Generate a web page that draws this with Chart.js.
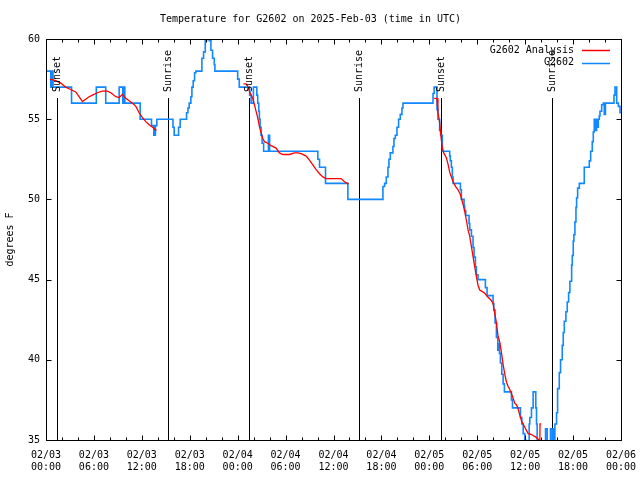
<!DOCTYPE html>
<html>
<head>
<meta charset="utf-8">
<title>Temperature for G2602</title>
<script src="https://cdn.jsdelivr.net/npm/chart.js@4.4.1/dist/chart.umd.min.js"></script>
<style>
  html, body { margin: 0; padding: 0; background: #fff; }
</style>
</head>
<body>
<canvas id="grafica" width="640" height="480"></canvas>
<script>
// horas desde 02/03 00:00 UTC
const obsHours = [0, 0.6, 0.75, 0.88, 3.2, 6.3, 7.48, 9.16, 9.62, 9.7, 9.87, 11.79, 13.21, 13.5, 13.7, 13.88,
  15.9, 16.05, 16.6, 16.8, 17.6, 17.77, 17.93, 18.14, 18.27, 18.43, 18.6, 18.77, 19.52, 19.73, 19.94, 20.11,
  20.44, 20.65, 20.86, 21.07, 21.15, 24.0, 24.2, 25.5, 25.68, 25.97, 26.4, 26.51, 26.64, 26.72, 26.81, 26.93,
  27.06, 27.25, 27.85, 28.0, 34.04, 34.25, 35.0, 37.8, 42.19, 42.4, 42.61, 42.82, 42.94, 43.11, 43.44, 43.57,
  43.74, 43.95, 44.15, 44.36, 44.57, 44.7, 48.46, 48.6, 48.96, 49.08, 49.29, 49.42, 49.63, 50.55, 50.63, 50.76,
  50.88, 50.97, 51.89, 52.01, 52.35, 52.43, 52.56, 52.97, 53.06, 53.27, 53.47, 53.6, 53.77, 53.89, 54.1, 55.02,
  55.23, 55.98, 56.07, 56.23, 56.4, 56.57, 56.69, 56.78, 56.9, 57.07, 57.24, 57.4, 58.28, 58.41, 59.41, 59.58,
  59.75, 59.95, 60.08, 60.5, 60.58, 60.79, 61.0, 61.33, 61.42, 61.5, 62.55, 62.76, 62.88, 63.17, 63.38, 63.5,
  63.6, 63.72, 63.93, 64.06, 64.27, 64.43, 64.64, 64.77, 64.9, 65.1, 65.27, 65.44, 65.6, 65.82, 65.9, 66.02,
  66.1, 66.23, 66.36, 66.44, 66.57, 66.78, 67.4, 68.03, 68.2, 68.4, 68.53, 68.65, 68.8, 68.95, 69.05, 69.16,
  69.28, 69.37, 69.58, 69.78, 69.9, 70.05, 71.12, 71.25, 71.46, 71.67, 71.88, 72];
const obsTemps = [58, 57, 58, 57, 56, 57, 56, 57, 56, 57, 56, 55, 54.6, 54, 54.6, 55,
  54.5, 54, 54.5, 55, 55.4, 55.7, 56, 56.4, 57, 57.4, 57.9, 58, 58.8, 59.2, 59.9, 60.3,
  59.9, 59.3, 58.8, 58.4, 58, 57.5, 57, 56.5, 56, 57, 56.5, 56, 55.5, 55, 54.5, 54,
  53.5, 53, 54, 53, 52.5, 52, 51, 50, 50.8, 51, 51.4, 52, 52.5, 52.9, 53.3, 53.8,
  54, 54.5, 55, 55.3, 55.7, 56, 56.6, 57, 55.6, 55, 54.3, 54, 53, 52.7, 52.4, 52,
  51.4, 51, 50.6, 50, 49.6, 49.3, 49, 48.5, 48.1, 47.7, 47, 46.4, 45.8, 45.3, 45, 44.5,
  44, 43.5, 43.1, 42.3, 41.4, 40.6, 41, 40.4, 39.8, 39.1, 38.5, 38, 37.5, 37, 36.4, 36,
  35.4, 35, 34, 36, 36.4, 37, 38, 37, 36, 34, 35.7, 34.9, 34, 35.7, 35, 35.7,
  34, 36, 36.7, 38.2, 39.2, 40, 40.9, 41.7, 42.4, 43, 43.6, 44.2, 44.9, 45.9, 46.5, 47.4,
  47.8, 48.6, 49.5, 50.1, 50.7, 51, 52, 52.4, 53, 53.6, 54.2, 55, 54.3, 55, 54.5, 55,
  55.2, 55.5, 55.9, 56, 55.3, 56, 56.5, 57, 56, 55.8, 55.4, 55.4];

const anaHours = [0.5, 1.21, 1.84, 2.47, 3.09, 3.72, 4.14, 4.56, 4.97, 5.39, 5.81, 6.44, 7.06, 7.69, 8.11,
  8.74, 9.16, 9.57, 9.99, 10.41, 10.83, 11.25, 11.66, 12.08, 12.5, 12.92, 13.34, 13.84, 14,
  24.72, 25.05, 25.26, 25.47, 25.68, 25.89, 26.1, 26.3, 26.51, 26.72, 26.93, 27.14, 27.35, 27.77, 28.19,
  28.81, 29.23, 29.65, 30.49, 31.11, 31.53, 31.95, 32.58, 32.99, 33.41, 33.83, 34.25, 34.67, 35.08, 36.34,
  36.96, 37.38, 37.9, 40,
  48.6, 48.96, 49.08, 49.29, 49.5, 49.63, 49.8, 50.13, 50.34, 50.55, 50.76, 50.97, 51.3, 51.6, 51.89,
  52.22, 52.43, 52.64, 52.85, 53.06, 53.27, 53.47, 53.68, 53.89, 54.1, 54.31, 54.65, 54.94, 55.36, 55.77,
  55.98, 56.19, 56.4, 56.61, 56.82, 57.03, 57.24, 57.45, 57.66, 57.86, 58.07, 58.28, 58.49, 58.7, 58.91,
  59.12, 59.33, 59.54, 59.75, 59.95, 60.16, 60.37, 60.58, 60.79, 61.0, 61.33, 61.63, 61.84, 61.86, 62.0];
const anaTemps = [57.5, 57.4, 57.25, 57.0, 56.85, 56.7, 56.4, 56.1, 56.25, 56.4, 56.5, 56.65, 56.75, 56.75, 56.65,
  56.4, 56.35, 56.55, 56.3, 56.15, 56.0, 55.8, 55.4, 55.1, 54.85, 54.65, 54.5, 54.3, null,
  57.2, 57.2, 57.05, 56.75, 56.5, 56.3, 55.9, 55.5, 55.1, 54.55, 54.15, 53.8, 53.6, 53.5, 53.35,
  53.2, 52.9, 52.8, 52.8, 52.9, 52.9, 52.85, 52.7, 52.45, 52.15, 51.85, 51.6, 51.4, 51.3, 51.3,
  51.3, 51.1, 50.95, null,
  56.3, 56.3, 55.4, 54.8, 53.7, 53.2, 52.9, 52.6, 52.2, 51.7, 51.4, 51.1, 50.8, 50.6, 50.3,
  49.7, 49.25, 48.7, 48.1, 47.7, 47.05, 46.45, 45.8, 45.2, 44.65, 44.35, 44.25, 44.15, 43.9, 43.7,
  43.5, 42.9, 42.3, 41.45, 41.1, 40.45, 39.7, 39.1, 38.6, 38.35, 38.15, 37.9, 37.6, 37.3, 37.2,
  36.95, 36.55, 36.2, 36.0, 35.8, 35.6, 35.4, 35.38, 35.34, 35.28, 35.18, 35.05, 34.9, 36.0, 36.0];

const sunHours = [1.42, 15.22, 25.38, 39.18, 49.42, 63.3];
const sunLabels = ['Sunset', 'Sunrise', 'Sunset', 'Sunrise', 'Sunset', 'Sunrise'];

const tickDates = ['02/03', '02/03', '02/03', '02/03', '02/04', '02/04', '02/04', '02/04', '02/05', '02/05', '02/05', '02/05', '02/06'];
const tickTimes = ['00:00', '06:00', '12:00', '18:00', '00:00', '06:00', '12:00', '18:00', '00:00', '06:00', '12:00', '18:00', '00:00'];

const fuente = { family: '"DejaVu Sans Mono", monospace', size: 10, weight: 'normal' };
const fuenteCss = '10px "DejaVu Sans Mono", monospace';
const azul = '#1188ff';
const rojo = '#ff0000';

// marco, marcas hacia dentro, lineas de sol y leyenda
const marco = {
  id: 'marco',
  beforeDatasetsDraw(chart) {
    const { ctx, chartArea: a, scales: { x } } = chart;
    ctx.save();
    ctx.strokeStyle = '#000';
    ctx.lineWidth = 1;
    sunHours.forEach(h => {
      const px = Math.round(x.getPixelForValue(h)) + 0.5;
      ctx.beginPath();
      ctx.moveTo(px, a.top + 59);
      ctx.lineTo(px, a.bottom);
      ctx.stroke();
    });
    ctx.restore();
  },
  afterDraw(chart) {
    const { ctx, chartArea: a, scales: { x, y } } = chart;
    ctx.save();
    ctx.strokeStyle = '#000';
    ctx.lineWidth = 1;
    const l = Math.round(a.left) + 0.5, t = Math.round(a.top) + 0.5;
    const r = Math.round(a.right) + 0.5, b = Math.round(a.bottom) + 0.5;
    ctx.strokeRect(l, t, r - l, b - t);

    ctx.beginPath();
    for (let h = 0; h <= 72; h += 2) {
      const px = Math.round(x.getPixelForValue(h)) + 0.5;
      const len = h % 6 === 0 ? 5 : 3;
      ctx.moveTo(px, b); ctx.lineTo(px, b - len);
      ctx.moveTo(px, t); ctx.lineTo(px, t + len);
    }
    for (let v = 35; v <= 60; v += 5) {
      const py = Math.round(y.getPixelForValue(v)) + 0.5;
      ctx.moveTo(l, py); ctx.lineTo(l + 5, py);
      ctx.moveTo(r, py); ctx.lineTo(r - 5, py);
    }
    ctx.stroke();

    // etiquetas de sol
    ctx.fillStyle = '#000';
    ctx.font = fuenteCss;
    ctx.textAlign = 'left';
    ctx.textBaseline = 'middle';
    sunHours.forEach((h, i) => {
      const px = x.getPixelForValue(h);
      ctx.save();
      ctx.translate(px + 0.5, a.top + 53);
      ctx.rotate(-Math.PI / 2);
      ctx.fillText(sunLabels[i], 0, 0);
      ctx.restore();
    });

    // leyenda
    ctx.textAlign = 'right';
    chart.data.datasets.forEach((ds, i) => {
      const ly = a.top + 11 + i * 12.5;
      ctx.fillStyle = '#000';
      ctx.fillText(ds.label, a.right - 47, ly);
      ctx.strokeStyle = ds.borderColor;
      ctx.lineWidth = 1.5;
      ctx.beginPath();
      ctx.moveTo(a.right - 39, Math.round(ly) + 0.5);
      ctx.lineTo(a.right - 11, Math.round(ly) + 0.5);
      ctx.stroke();
    });
    ctx.restore();
  }
};

const ctx = document.getElementById('grafica').getContext('2d');
new Chart(ctx, {
  type: 'line',
  data: {
    datasets: [{
      label: 'G2602 Analysis',
      data: anaHours.map((h, i) => ({ x: h, y: anaTemps[i] })),
      borderColor: rojo,
      borderWidth: 1.3,
      pointRadius: 0,
      tension: 0
    }, {
      label: 'G2602',
      data: obsHours.map((h, i) => ({ x: h, y: obsTemps[i] })),
      borderColor: azul,
      borderWidth: 1.6,
      pointRadius: 0,
      stepped: true
    }]
  },
  options: {
    responsive: false,
    animation: false,
    layout: { padding: { left: 0, right: 19, top: 0, bottom: 0 } },
    plugins: {
      legend: { display: false },
      tooltip: { enabled: false },
      title: {
        display: true,
        text: 'Temperature for G2602 on 2025-Feb-03 (time in UTC)',
        font: fuente,
        color: '#000',
        padding: { top: 13, bottom: 14 }
      }
    },
    scales: {
      x: {
        type: 'linear',
        min: 0,
        max: 72,
        grid: { display: false, drawTicks: false },
        border: { display: false },
        ticks: {
          stepSize: 6,
          autoSkip: false,
          maxRotation: 0,
          padding: 9,
          font: fuente,
          color: '#000',
          callback: v => [tickDates[v / 6], tickTimes[v / 6]]
        },
        afterFit: s => { s.height = 40; s.paddingLeft = 0; s.paddingRight = 0; }
      },
      y: {
        min: 35,
        max: 60,
        grid: { display: false, drawTicks: false },
        border: { display: false },
        ticks: { stepSize: 5, padding: 6, font: fuente, color: '#000' },
        title: { display: true, text: 'degrees F', font: fuente, color: '#000', padding: { top: 4 } },
        afterFit: s => { s.width = 46; s.paddingTop = 0; s.paddingBottom = 0; }
      }
    }
  },
  plugins: [marco]
});
</script>
</body>
</html>
